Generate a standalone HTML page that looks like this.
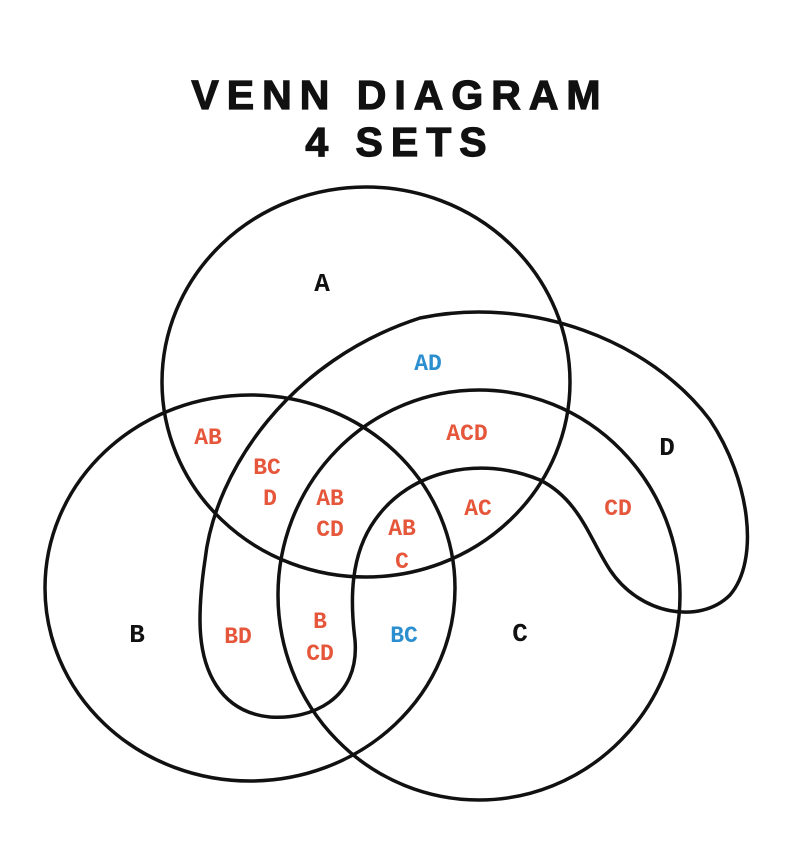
<!DOCTYPE html>
<html><head><meta charset="utf-8"><style>
html,body{margin:0;padding:0;background:#fff;}
svg{display:block;}
.t{font-family:"Liberation Sans",sans-serif;font-weight:bold;font-size:41px;letter-spacing:8px;fill:#111;stroke:#111;stroke-width:1.2px;}
.l{font-family:"Liberation Mono",monospace;font-weight:bold;font-size:23px;text-anchor:middle;}
.r{fill:#e5563a;}.b{fill:#2b8fcf;}.k{fill:#111;font-size:26px;}
</style></head><body>
<svg width="800" height="856" viewBox="0 0 800 856" xmlns="http://www.w3.org/2000/svg">
<text class="t" x="400" y="109" text-anchor="middle">VENN DIAGRAM</text>
<text class="t" x="400" y="156" text-anchor="middle">4 SETS</text>
<g fill="none" stroke="#111" stroke-width="3.5">
<ellipse cx="366" cy="382" rx="204" ry="195"/>
<ellipse cx="250" cy="588" rx="205" ry="193"/>
<ellipse cx="479" cy="595" rx="201" ry="205"/>
<path d="M205 560 C215 470 290 360 420 318 C530 295 650 340 710 420 C750 480 760 560 730 595 C700 625 640 615 610 570 C590 540 580 500 540 480 C480 455 410 470 375 520 C350 555 350 600 355 640 C360 700 310 720 270 717 C220 712 200 670 200 620 C200 600 202 580 205 560 Z"/>
</g>
<text class="l k" x="322" y="291">A</text>
<text class="l k" x="667" y="455">D</text>
<text class="l k" x="137" y="642">B</text>
<text class="l k" x="520" y="641">C</text>
<text class="l b" x="428" y="370">AD</text>
<text class="l r" x="208" y="444">AB</text>
<text class="l r" x="467" y="440">ACD</text>
<text class="l r" x="267" y="474">BC</text>
<text class="l r" x="270" y="505">D</text>
<text class="l r" x="330" y="505">AB</text>
<text class="l r" x="330" y="536">CD</text>
<text class="l r" x="402" y="535">AB</text>
<text class="l r" x="402" y="568">C</text>
<text class="l r" x="478" y="515">AC</text>
<text class="l r" x="618" y="515">CD</text>
<text class="l r" x="238" y="643">BD</text>
<text class="l r" x="320" y="628">B</text>
<text class="l r" x="320" y="660">CD</text>
<text class="l b" x="404" y="642">BC</text>
</svg>
</body></html>
